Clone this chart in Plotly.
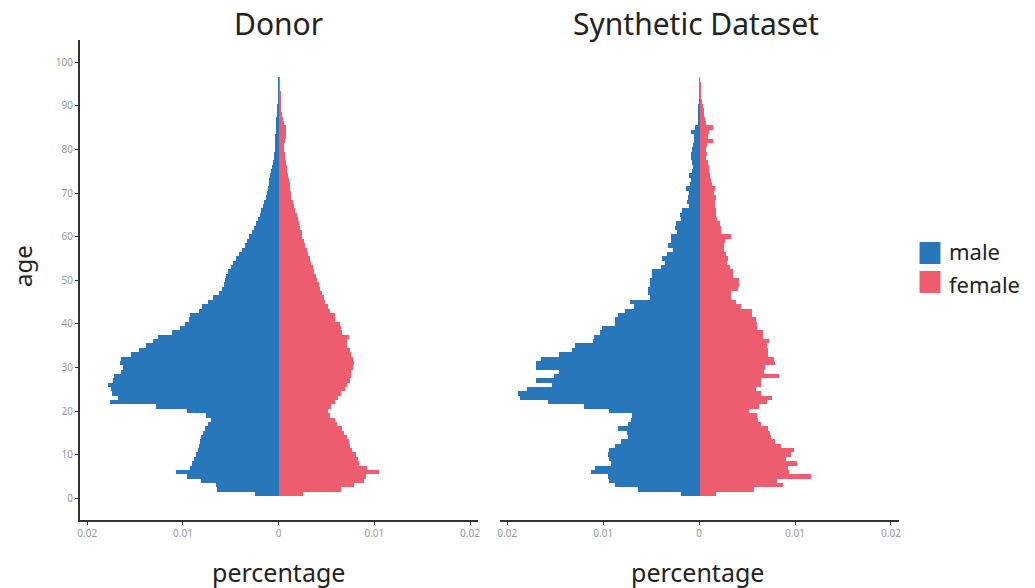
import plotly.graph_objects as go

ages = list(range(1, 97))

# values in thousandths (x 0.001)
donor_male = [
    2.5, 6.5, 6.6, 8.2, 9.6, 10.8, 9.3, 9.1, 8.9, 8.7,
    8.5, 8.4, 8.3, 8.2, 7.9, 7.7, 7.4, 7.1, 7.6, 9.6,
    12.9, 17.7, 16.8, 17.5, 17.6, 17.9, 17.4, 17.2, 16.5, 16.3,
    16.6, 16.5, 15.5, 14.6, 13.9, 13.2, 12.7, 11.2, 10.3, 9.8,
    9.4, 9.3, 8.4, 8.0, 7.4, 6.9, 6.3, 6.0, 5.8, 5.6,
    5.5, 5.3, 5.0, 4.8, 4.5, 4.2, 3.9, 3.6, 3.3, 3.1,
    2.8, 2.6, 2.4, 2.2, 2.0, 1.9, 1.7, 1.6, 1.4, 1.3,
    1.2, 1.1, 1.0, 0.9, 0.8, 0.7, 0.65, 0.55, 0.5, 0.45,
    0.42, 0.4, 0.38, 0.35, 0.32, 0.3, 0.28, 0.25, 0.22, 0.18,
    0.15, 0.12, 0.1, 0.07, 0.05, 0.03,
]
donor_female = [
    2.5, 6.5, 7.8, 8.9, 9.1, 10.4, 9.2, 8.4, 8.2, 8.0,
    7.6, 7.4, 7.3, 7.1, 6.8, 6.6, 6.1, 5.8, 5.3, 5.1,
    5.4, 5.9, 6.2, 6.5, 6.9, 7.1, 7.4, 7.5, 7.5, 7.7,
    7.8, 7.7, 7.5, 7.4, 7.1, 7.1, 7.3, 6.6, 6.5, 6.4,
    5.9, 5.8, 5.3, 5.1, 4.8, 4.7, 4.5, 4.3, 4.2, 4.0,
    3.9, 3.7, 3.5, 3.35, 3.2, 3.05, 2.9, 2.75, 2.6, 2.45,
    2.35, 2.2, 2.05, 1.95, 1.85, 1.7, 1.55, 1.45, 1.3, 1.2,
    1.15, 1.1, 1.0, 0.95, 0.88, 0.8, 0.72, 0.65, 0.6, 0.55,
    0.55, 0.6, 0.7, 0.75, 0.7, 0.55, 0.4, 0.3, 0.25, 0.2,
    0.18, 0.15, 0.12, 0.08, 0.05, 0.03,
]
synth_male = [
    1.9, 6.4, 8.8, 9.4, 9.5, 11.3, 10.9, 9.2, 9.4, 9.5,
    9.4, 8.8, 8.2, 7.5, 7.6, 8.5, 7.5, 7.1, 7.0, 9.4,
    12.0, 15.8, 18.7, 18.9, 18.0, 15.4, 17.0, 15.2, 14.7, 17.0,
    17.0, 16.5, 14.6, 13.3, 13.0, 11.1, 11.0, 10.4, 10.2, 8.8,
    8.8, 8.5, 7.8, 6.8, 7.3, 5.2, 5.4, 5.4, 5.2, 5.2,
    5.0, 5.0, 4.0, 3.6, 3.9, 3.4, 2.8, 3.3, 3.0, 3.0,
    2.3, 2.6, 2.5, 1.9, 2.0, 1.85, 1.1, 1.3, 1.2, 1.15,
    1.4, 1.0, 0.9, 1.05, 0.8, 0.7, 0.75, 0.85, 0.9, 0.75,
    0.7, 0.6, 0.55, 0.9, 0.5, 0.2, 0.15, 0.1, 0.08, 0.06,
    0.05, 0.04, 0.03, 0.03, 0.02, 0.02,
]
synth_female = [
    1.7, 5.7, 8.7, 8.1, 11.6, 9.3, 9.2, 10.2, 9.0, 9.5,
    9.85, 8.5, 7.9, 7.5, 7.3, 7.1, 6.4, 6.1, 6.0, 5.2,
    6.2, 7.0, 7.6, 6.4, 5.9, 6.4, 6.4, 8.3, 6.7, 6.8,
    7.9, 7.8, 7.1, 7.1, 7.0, 7.25, 6.6, 6.6, 6.0, 6.0,
    5.85, 5.5, 5.5, 4.3, 3.8, 3.3, 3.3, 4.0, 4.1, 4.1,
    3.45, 3.45, 3.2, 2.9, 3.0, 2.8, 2.6, 2.5, 2.7, 3.3,
    2.2, 2.2, 2.1, 1.8, 1.7, 1.7, 1.6, 1.6, 1.7, 1.5,
    1.6, 1.3, 1.2, 1.1, 1.0, 1.0, 0.9, 0.7, 0.75, 0.7,
    0.8, 1.37, 0.9, 1.0, 1.37, 0.7, 0.6, 0.5, 0.45, 0.35,
    0.3, 0.2, 0.12, 0.08, 0.05, 0.03,
]
UNIT = 0.001

tick_vals = [-0.02, -0.01, 0, 0.01, 0.02]
tick_text = ["0.02", "0.01", "0", "0.01", "0.02"]
y_ticks = list(range(0, 101, 10))

BLUE = "#2977BB"
PINK = "#EE5C70"
FONT = "Noto Sans"

fig = go.Figure()
panels = [("x", "y", donor_male, donor_female), ("x2", "y2", synth_male, synth_female)]
for xa, ya, m, f in panels:
    fig.add_trace(go.Bar(y=ages, x=[-v * UNIT for v in m], orientation="h", xaxis=xa, yaxis=ya,
                         marker=dict(color=BLUE, line=dict(width=0)), width=1, showlegend=False,
                         name="male"))
    fig.add_trace(go.Bar(y=ages, x=[v * UNIT for v in f], orientation="h", xaxis=xa, yaxis=ya,
                         marker=dict(color=PINK, line=dict(width=0)), width=1, showlegend=False,
                         name="female"))

W, H = 1035, 588
T, B = 40, 68
PH = H - T - B


def px(X):
    return X / W


def py(Y):
    return (H - B - Y) / PH


xr = [-0.0208, 0.0208]
yr = [-5, 105.1]
axis_x = dict(range=xr, tickvals=tick_vals, ticktext=tick_text, showgrid=False, zeroline=False,
              showline=True, linecolor="#333", linewidth=1.5, ticks="outside", ticklen=3,
              tickcolor="#333", tickfont=dict(size=10, color="#999", family=FONT), fixedrange=True)
fig.update_layout(
    width=W, height=H,
    paper_bgcolor="white", plot_bgcolor="white",
    margin=dict(l=0, r=0, t=T, b=B),
    barmode="relative", bargap=0,
    showlegend=False,
    xaxis=dict(domain=[78 / W, 478 / W], anchor="y", **axis_x),
    xaxis2=dict(domain=[500 / W, 901 / W], anchor="y2", **axis_x),
    yaxis=dict(range=yr, tickvals=y_ticks, showgrid=False, zeroline=False, showline=True,
               linecolor="#333", linewidth=1.5, ticks="outside", ticklen=3, tickcolor="#333",
               tickfont=dict(size=10, color="#999", family=FONT), anchor="x", fixedrange=True),
    yaxis2=dict(range=yr, showgrid=False, zeroline=False, showline=False, showticklabels=False,
                ticks="", anchor="x2", fixedrange=True),
    font=dict(family=FONT, color="#222"),
)

ann = [
    dict(text="Donor", x=278, y=24, size=30),
    dict(text="Synthetic Dataset", x=697, y=24, size=30),
    dict(text="percentage", x=278, y=572, size=25),
    dict(text="percentage", x=699, y=572, size=25),
]
for a in ann:
    fig.add_annotation(text=a["text"], xref="paper", yref="paper", x=px(a["x"]), y=py(a["y"]),
                       xanchor="center", yanchor="middle", showarrow=False,
                       font=dict(size=a["size"], family=FONT, color="#222"))
fig.add_annotation(text="age", xref="paper", yref="paper", x=px(20), y=py(266), textangle=-90,
                   xanchor="center", yanchor="middle", showarrow=False,
                   font=dict(size=24, family=FONT, color="#222"))

# legend
for label, col, yc, ty in [("male", BLUE, 253, 251), ("female", PINK, 282, 284)]:
    fig.add_shape(type="rect", xref="paper", yref="paper", x0=px(922), x1=px(943),
                  y0=py(yc + 11), y1=py(yc - 11), fillcolor=col, line=dict(width=0))
    fig.add_annotation(text=label, xref="paper", yref="paper", x=px(951), y=py(ty),
                       xanchor="left", yanchor="middle", showarrow=False, borderpad=0,
                       font=dict(size=22, family=FONT, color="#222"))

fig.write_html("out.html", config={"displayModeBar": False},
               post_script="document.body.style.margin='0px';document.body.style.padding='0px';")
